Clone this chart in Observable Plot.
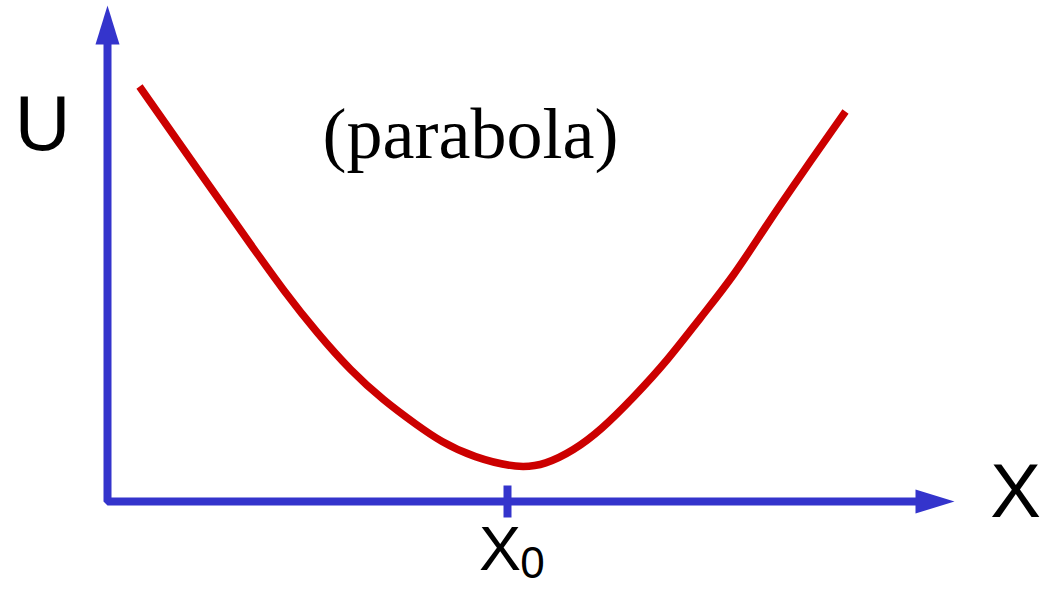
<!DOCTYPE html>
<html>
<head>
<meta charset="utf-8">
<script src="https://cdn.jsdelivr.net/npm/d3@7"></script>
<script src="https://cdn.jsdelivr.net/npm/@observablehq/plot@0.6"></script>
<style>
  html, body { margin: 0; padding: 0; background: #fff; }
  #chart svg { display: block; }
</style>
</head>
<body>
<div id="chart"></div>
<script>
// Curve U(X) (x: position along X axis, u: potential)
const curveX = [0.32, 0.93, 1.46, 1.76, 2.10, 2.43, 2.76, 3.10, 3.33, 3.66, 4.11, 4.38, 4.66, 4.93, 5.26, 5.60, 5.93, 6.26, 6.60, 6.93, 7.38];
const curveU = [4.15, 3.28, 2.53, 2.11, 1.68, 1.31, 1.01, 0.76, 0.60, 0.44, 0.33, 0.37, 0.51, 0.71, 1.04, 1.41, 1.84, 2.25, 2.78, 3.26, 3.90];

// Axes extents and the X0 tick
const xAxisEnd = 8.47;
const uAxisEnd = 4.96;
const x0Value = 4.0;
const tickHalf = 0.16;

// Text labels
const labelTexts = ["U", "X", "X", "0", "(parabola)"];
const labelX = [-0.65, 9.08, 3.925, 4.25, 3.63];
const labelU = [3.765, 0.09, -0.485, -0.625, 3.67];
const labelSize = [77, 76, 63, 44, 72];
const labelFont = ["Liberation Sans, Arial, sans-serif", "Liberation Sans, Arial, sans-serif", "Liberation Sans, Arial, sans-serif", "Liberation Sans, Arial, sans-serif", "Liberation Serif, Times New Roman, serif"];

const blue = "#3434cc";
const red = "#cc0000";

const curve = curveX.map((x, i) => ({x, u: curveU[i]}));
const labels = labelTexts.map((t, i) => ({t, x: labelX[i], u: labelU[i], size: labelSize[i], font: labelFont[i]}));

// filled slender arrowhead with its tip at the anchor point, pointing right
const arrowHead = {
  draw(context) {
    context.moveTo(0, 0);
    context.lineTo(-39, -12);
    context.lineTo(-39, 12);
    context.closePath();
  }
};

const arrows = [
  {x: xAxisEnd, u: 0, angle: 0},
  {x: 0, u: uAxisEnd, angle: -90}
];

const textMarks = labels.map(d =>
  Plot.text([d], {
    x: "x", y: "u", text: "t",
    fontSize: d.size, fontFamily: d.font,
    fill: "#000", textAnchor: "middle", lineAnchor: "middle"
  })
);

const chart = Plot.plot({
  width: 1042,
  height: 590,
  margin: 0,
  x: {domain: [-1.07, 9.35], axis: null},
  y: {domain: [-0.89, 5.01], axis: null},
  marks: [
    Plot.line([{x: 0, u: uAxisEnd - 0.2}, {x: 0, u: 0}, {x: xAxisEnd - 0.2, u: 0}], {
      x: "x", y: "u", stroke: blue, strokeWidth: 8, strokeLinecap: "square", strokeLinejoin: "miter"
    }),
    Plot.line([{x: x0Value, u: tickHalf}, {x: x0Value, u: -tickHalf}], {
      x: "x", y: "u", stroke: blue, strokeWidth: 8, strokeLinecap: "butt"
    }),
    Plot.dot(arrows, {
      x: "x", y: "u", symbol: arrowHead, rotate: "angle", fill: blue, stroke: "none", r: 10
    }),
    Plot.line(curve, {
      x: "x", y: "u", stroke: red, strokeWidth: 7.5, curve: "basis", strokeLinecap: "butt"
    }),
    ...textMarks
  ]
});

document.getElementById("chart").appendChild(chart);
</script>
</body>
</html>
